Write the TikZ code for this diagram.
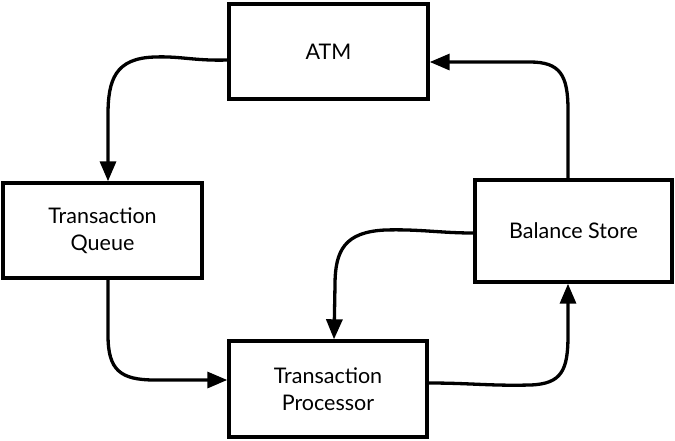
\documentclass[tikz,border=0pt]{standalone}
\usepackage{fontspec}
\setmainfont{Lato}
\usetikzlibrary{arrows.meta}
\begin{document}
\begin{tikzpicture}[x=1pt,y=-1pt,
  box/.style={draw, line width=3.4pt, align=center, inner sep=0pt,
    font=\fontsize{21.5}{27}\selectfont},
  conn/.style={line width=3.3pt, -{Triangle[length=20pt,width=16pt]}}]
\useasboundingbox (0,0) rectangle (675,440);
\node[box, minimum width=199pt, minimum height=95pt] (atm) at (328.5,51.5) {ATM};
\node[box, minimum width=199pt, minimum height=95pt] (queue) at (102.5,230.5) {Transaction\\Queue};
\node[box, minimum width=198pt, minimum height=96pt] (proc) at (328,389) {Transaction\\Processor};
\node[box, minimum width=197pt, minimum height=102pt] (bal) at (573.5,231) {Balance Store};
% ATM -> Queue
\draw[conn] ([yshift=-8.5pt]atm.west) .. controls (195,61) and (180,56) .. (155,57)
  .. controls (115,58) and (108,80) .. (108,115) -- ([xshift=5.5pt]queue.north);
% Queue -> Processor
\draw[conn] ([xshift=5.5pt]queue.south) -- (108,335)
  .. controls (108,370) and (120,380) .. (155,380) -- ([yshift=9pt]proc.west);
% Processor -> Balance
\draw[conn] ([yshift=6pt]proc.east) .. controls (470,383) and (490,386) .. (530,385)
  .. controls (562,384) and (568,370) .. (568,335) -- ([xshift=-5.5pt]bal.south);
% Balance -> Processor
\draw[conn] ([yshift=-2pt]bal.west) .. controls (440,233) and (420,229) .. (385,230)
  .. controls (345,232) and (335,250) .. (335,285) -- ([xshift=6pt]proc.north);
% Balance -> ATM
\draw[conn] ([xshift=-5.5pt]bal.north) -- (568,110)
  .. controls (568,75) and (560,62) .. (530,62) -- ([yshift=-10.5pt]atm.east);
\end{tikzpicture}
\end{document}
